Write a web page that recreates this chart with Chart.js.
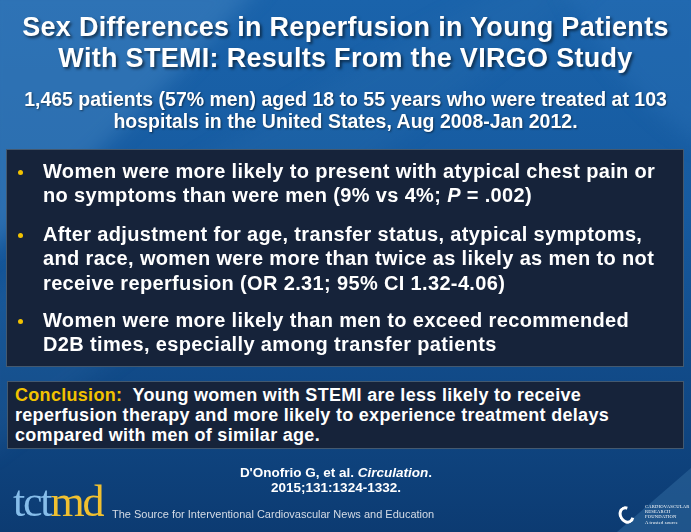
<!DOCTYPE html>
<html>
<head>
<meta charset="utf-8">
<script src="https://cdn.jsdelivr.net/npm/chart.js@4"></script>
<style>
  html, body { margin: 0; padding: 0; }
  body { width: 691px; height: 532px; overflow: hidden; position: relative; font-family: "Liberation Sans", Arial, sans-serif; color: #fff; }
  #bg { position: absolute; left: 0; top: 0; width: 691px; height: 532px; }
  .layer { position: absolute; left: 0; top: 0; width: 691px; height: 532px; }
  #title { position: absolute; top: 12px; left: 0; width: 691px; text-align: center; font-weight: bold; font-size: 27px; letter-spacing: 0.3px; line-height: 31px; text-shadow: 2px 2px 3px rgba(0,0,0,0.55); }
  #subtitle { position: absolute; top: 88px; left: 0; width: 691px; text-align: center; font-weight: bold; font-size: 19.5px; line-height: 22px; text-shadow: 1px 1px 2px rgba(0,0,0,0.5); }
  #box1 { position: absolute; left: 6px; top: 149px; width: 678px; height: 218px; background: #16233a; border: 1px solid #44596f; box-sizing: border-box; }
  .bullet { position: absolute; left: 36px; width: 640px; font-weight: bold; font-size: 20px; letter-spacing: 0.35px; line-height: 24.5px; white-space: nowrap; }
  .dot { position: absolute; left: -25.5px; top: 11px; width: 5px; height: 5px; border-radius: 50%; background: #f2c200; }
  #box2 { position: absolute; left: 7px; top: 381px; width: 677px; height: 68px; background: #16233a; border: 1px solid #44596f; box-sizing: border-box; padding: 2.8px 0 0 7px; font-weight: bold; font-size: 18px; letter-spacing: 0.3px; line-height: 20px; white-space: nowrap; }
  #box2 .lbl { color: #f2c200; }
  #cite { position: absolute; top: 465px; left: 236px; width: 200px; text-align: center; font-weight: bold; font-size: 13.5px; line-height: 15px; }
  #logo { position: absolute; left: 13px; top: 480px; font-family: "Liberation Serif", "DejaVu Serif", serif; font-size: 44px; line-height: 44px; letter-spacing: -2.2px; }
  #logo .a { color: #86bdea; }
  #logo .b { color: #f0c030; }
  #tag { position: absolute; left: 112px; top: 507.7px; font-size: 11px; line-height: 13px; color: #d5dce6; }
  #crf { position: absolute; left: 619px; top: 504px; width: 72px; height: 24px; }
  #crf .ring { position: absolute; left: 0; top: 2px; width: 9px; height: 12px; border: 3px solid #fff; border-radius: 50%; border-right-color: transparent; transform: rotate(-30deg); }
  #crf .t { position: absolute; left: 26px; top: 0; font-family: "Liberation Serif", serif; font-size: 4.6px; line-height: 5.2px; color: #fff; letter-spacing: 0.2px; }
</style>
</head>
<body>
<canvas id="bg" width="691" height="532"></canvas>
<div class="layer">
  <div id="title"></div>
  <div id="subtitle"></div>
  <div id="box1"></div>
  <div id="box2"></div>
  <div id="cite"></div>
  <div id="logo"><span class="a">tct</span><span class="b">md</span></div>
  <div id="tag"></div>
  <div id="crf"><div class="ring"></div><div class="t">CARDIOVASCULAR<br>RESEARCH<br>FOUNDATION<br>A trusted source</div></div>
</div>
<script>
// slide text
const titleLines = ["Sex Differences in Reperfusion in Young Patients", "With STEMI: Results From the VIRGO Study"];
const subtitleLines = ["1,465 patients (57% men) aged 18 to 55 years who were treated at 103", "hospitals in the United States, Aug 2008-Jan 2012."];
const bullet1 = ["Women were more likely to present with atypical chest pain or", "no symptoms than were men (9% vs 4%; <i>P</i> = .002)"];
const bullet2 = ["After adjustment for age, transfer status, atypical symptoms,", "and race, women were more than twice as likely as men to not", "receive reperfusion (OR 2.31; 95% CI 1.32-4.06)"];
const bullet3 = ["Women were more likely than men to exceed recommended", "D2B times, especially among transfer patients"];
const conclusionLabel = "Conclusion:";
const conclusionLines = ["Young women with STEMI are less likely to receive", "reperfusion therapy and more likely to experience treatment delays", "compared with men of similar age."];
const citeLines = ["D'Onofrio G, et al. <i>Circulation</i>.", "2015;131:1324-1332."];
const tagline = "The Source for Interventional Cardiovascular News and Education";
const bulletTops = [8.8, 71.8, 157.8];

document.getElementById('title').innerHTML = titleLines.join('<br>');
document.getElementById('subtitle').innerHTML = subtitleLines.join('<br>');
document.getElementById('cite').innerHTML = citeLines.join('<br>');
document.getElementById('tag').textContent = tagline;

const box1 = document.getElementById('box1');
[bullet1, bullet2, bullet3].forEach((lines, i) => {
  const b = document.createElement('div');
  b.className = 'bullet';
  b.style.top = bulletTops[i] + 'px';
  b.innerHTML = '<div class="dot"></div>' + lines.join('<br>');
  box1.appendChild(b);
});

document.getElementById('box2').innerHTML =
  '<span class="lbl">' + conclusionLabel + '</span>&nbsp; ' + conclusionLines.join('<br>');

// background painted through a Chart.js plugin
const slideBackground = {
  id: 'slideBackground',
  beforeDraw(chart) {
    const ctx = chart.ctx;
    const w = chart.width, h = chart.height;
    ctx.save();
    // base: mid blue top, navy bottom
    let g = ctx.createLinearGradient(0, 0, 0, h);
    g.addColorStop(0, '#1a63ab');
    g.addColorStop(0.4, '#165a9f');
    g.addColorStop(1, '#0c3b72');
    ctx.fillStyle = g;
    ctx.fillRect(0, 0, w, h);
    ctx.filter = 'blur(10px)';
    // lighter upper-left area
    ctx.beginPath();
    ctx.moveTo(-20, -20); ctx.lineTo(265, -20);
    ctx.quadraticCurveTo(140, 120, -20, 260);
    ctx.closePath();
    ctx.fillStyle = 'rgba(70,135,195,0.45)';
    ctx.fill();
    // soft lighter band down the left
    ctx.beginPath();
    ctx.moveTo(-20, 300); ctx.quadraticCurveTo(250, 120, 520, -20);
    ctx.lineTo(600, -20);
    ctx.quadraticCurveTo(300, 220, -20, 460);
    ctx.closePath();
    ctx.fillStyle = 'rgba(50,115,180,0.18)';
    ctx.fill();
    // upper right lighter curve
    ctx.beginPath();
    ctx.moveTo(560, -20); ctx.lineTo(w + 20, -20); ctx.lineTo(w + 20, 150);
    ctx.quadraticCurveTo(620, 100, 560, -20);
    ctx.closePath();
    ctx.fillStyle = 'rgba(50,120,190,0.3)';
    ctx.fill();
    ctx.filter = 'none';
    // bottom right corner
    ctx.beginPath();
    ctx.moveTo(w, 468); ctx.lineTo(w, h); ctx.lineTo(617, h);
    ctx.closePath();
    ctx.fillStyle = 'rgba(40,95,150,0.7)';
    ctx.fill();
    ctx.restore();
  }
};

new Chart(document.getElementById('bg'), {
  type: 'bar',
  data: { labels: [], datasets: [] },
  options: {
    responsive: false,
    animation: false,
    events: [],
    plugins: { legend: { display: false }, tooltip: { enabled: false } },
    scales: { x: { display: false }, y: { display: false } }
  },
  plugins: [slideBackground]
});
</script>
</body>
</html>
